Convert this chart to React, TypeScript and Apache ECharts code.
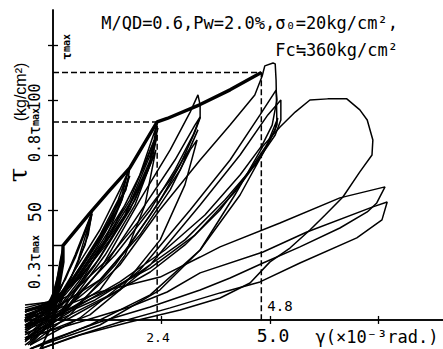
import React, { useEffect, useRef } from "react";
import * as echarts from "echarts";

// axis ticks and labels
const yTicks = [25, 50, 75, 100, 125];
const yLabels = [50, 100];
const xTicks = [2.5, 5.0, 7.5];
const xLabels = [2.4, 5.0];

// reference levels
const tauMax = 112.5;
const tau08 = 90;
const tau03 = 33.8;
const gamma24 = 2.4;
const gamma48 = 4.8;
const gamma03 = 0.23;

// skeleton (envelope) curve
const envelope = [[0, 0], [0.16, 18.2], [0.23, 26.4], [0.23, 33.8], [0.85, 48.6], [1.31, 59], [1.77, 69.1], [2.4, 90], [2.63, 91.6], [3.39, 97.9], [4.08, 104.6], [4.8, 112.5]];

// hysteresis loops (gamma x10^-3 rad, tau kg/cm2)
const loop03a = [[-0.645, -10], [-0.18, -2.3], [0, 6.8], [0.115, 20.5], [0.23, 33.2], [0.16, 26.4], [0.05, 13.6], [-0.115, 2.3], [-0.53, -8.2], [-0.645, -9.1]];
const loop03b = [[-0.645, -5.5], [-0.18, 0.9], [0.05, 10], [0.23, 32.3], [0.115, 20.5], [-0.07, 6.8], [-0.35, -0.9], [-0.645, -3.6]];
const loop03c = [[-0.645, 0.9], [-0.18, 2.3], [0.05, 9.1], [0.21, 29.5], [0.09, 15.9], [-0.18, 4.5], [-0.645, -0.9]];
const loop03d = [[-0.3, -13.2], [-0.07, -4.5], [0.07, 9.1], [0.23, 31.8], [0.115, 18.2], [-0.02, 2.3], [-0.25, -13.2]];
const loop09a = [[-0.645, 0.9], [-0.18, 3.6], [0.16, 13.6], [0.51, 29.5], [0.81, 44.5], [0.9, 49.1], [0.81, 38.6], [0.58, 26.4], [0.28, 13.6], [-0.07, 4.5], [-0.645, -2.7]];
const loop09b = [[-0.58, -11.4], [-0.07, -2.3], [0.21, 9.1], [0.58, 27.3], [0.9, 48.2], [0.74, 34.1], [0.39, 18.2], [0.05, 6.8], [-0.645, 0]];
const loop09c = [[-0.645, 6.8], [-0.07, 8.2], [0.28, 18.2], [0.62, 34.1], [0.88, 47.7], [0.78, 41.8], [0.51, 28.2], [0.16, 13.6], [-0.18, 6.8], [-0.645, 3.6]];
const loop18a = [[-0.645, 4.5], [-0.18, 5.5], [0.16, 11.4], [0.62, 26.4], [1.08, 40.9], [1.54, 59.1], [1.77, 69.1], [1.71, 61.4], [1.43, 47.7], [0.97, 31.8], [0.51, 18.2], [0.05, 6.8], [-0.645, 1.8]];
const loop18b = [[-0.58, -6.8], [0.05, 4.5], [0.51, 20.5], [1.08, 38.6], [1.5, 54.5], [1.73, 67.3], [1.59, 56.8], [1.2, 40.9], [0.74, 26.4], [0.16, 9.1], [-0.58, -3.6]];
const loop18c = [[-0.645, -2.3], [0.05, 6.8], [0.74, 26.4], [1.31, 45.5], [1.66, 59.1], [1.77, 65.5], [1.54, 52.3], [1.08, 36.4], [0.39, 15.9], [-0.645, -0.9]];
const loop18d = [[-0.53, -9.1], [0.16, 2.3], [0.74, 20.5], [1.2, 36.4], [1.59, 54.5], [1.73, 64.5], [1.68, 59.1], [1.43, 50], [0.97, 34.1], [0.39, 17.3], [-0.07, 6.8], [-0.645, 3.6]];
const loop24a = [[-0.645, -9.1], [0.05, 3.6], [0.62, 18.2], [1.31, 38.6], [2.0, 65.9], [2.4, 89.1], [2.33, 81.8], [2.12, 70.5], [1.66, 52.3], [1.08, 34.1], [0.51, 18.2], [-0.07, 6.8], [-0.645, 2.3]];
const loop24b = [[-0.53, -11.4], [0.16, 3.6], [0.97, 25], [1.66, 47.7], [2.24, 75], [2.42, 87.3], [2.24, 72.7], [1.89, 56.8], [1.31, 38.6], [0.62, 20.5], [0.05, 9.1], [-0.645, 5.5]];
const loop24c = [[-0.645, -4.5], [0.16, 5.5], [1.08, 28.2], [1.77, 50], [2.19, 68.2], [2.37, 81.8], [2.19, 69.1], [1.66, 47.7], [0.97, 28.2], [0.28, 11.4], [-0.645, 3.6]];
const loop24d = [[-0.58, -8.2], [0.28, 4.5], [1.2, 29.5], [1.89, 52.3], [2.28, 72.7], [2.4, 84.1], [2.24, 77.3], [1.77, 54.5], [1.2, 36.4], [0.51, 17.3], [-0.18, 5.5], [-0.645, 0.9]];
const loop24e = [[-0.645, -2.3], [0.16, 2.3], [1.08, 13.6], [1.66, 29.5], [2.12, 52.3], [2.37, 77.3], [2.24, 70.5], [1.89, 54.5], [1.31, 36.4], [0.62, 19.1], [-0.07, 7.7], [-0.645, 4.5]];
const loop34a = [[-0.645, -11.4], [0.16, 0.9], [1.08, 22.7], [2.0, 54.5], [2.7, 77.3], [3.16, 94.5], [3.34, 102.3], [3.39, 97.7], [3.39, 91.8], [3.27, 85.5], [2.93, 70.5], [2.47, 54.5], [1.77, 34.1], [1.08, 18.2], [0.39, 6.8], [-0.3, -0.9], [-0.645, -3.6]];
const loop34b = [[-0.645, -6.8], [0.16, 2.3], [1.2, 25], [2.12, 52.3], [2.81, 72.7], [3.27, 88.6], [3.39, 92.3], [3.23, 84.1], [2.81, 68.2], [2.24, 50], [1.43, 29.5], [0.62, 12.7], [-0.18, 2.3], [-0.645, -0.9]];
const loop34c = [[-0.53, -11.4], [0.39, 2.3], [1.43, 25], [2.24, 47.7], [2.93, 68.2], [3.34, 86.4], [3.16, 78.2], [2.7, 63.6], [2.0, 45.5], [1.2, 26.4], [0.39, 11.4], [-0.645, 0.9]];
const loop34d = [[-0.645, -8.2], [0.39, 0.9], [1.54, 13.6], [2.47, 36.4], [3.04, 61.4], [3.32, 81.8], [3.16, 77.3], [2.7, 59.1], [2.0, 38.6], [1.08, 18.2], [0.16, 6.8], [-0.645, 2.3]];
const loop50a = [[-0.645, -8.2], [0.39, 3.6], [1.54, 25], [2.46, 50], [3.39, 72.7], [4.08, 88.6], [4.65, 102.3], [4.82, 110.9], [4.88, 115.5], [5.07, 116.8], [5.12, 116.4], [5.14, 109.1], [5.16, 88.6], [5.0, 81.8], [4.54, 68.2], [3.85, 50], [3.04, 34.1], [2.24, 21.8], [1.31, 11.4], [0.39, 2.3], [-0.41, -4.5], [-0.645, -5.9]];
const loop50b = [[-0.53, -11.4], [0.62, 0.9], [2.0, 22.7], [3.16, 50], [4.08, 72.7], [4.77, 93.2], [5.14, 104.5], [5.16, 100], [5.05, 88.6], [4.82, 79.5], [4.31, 65.9], [3.5, 47.7], [2.58, 31.8], [1.54, 17.3], [0.62, 6.8], [-0.3, -0.9], [-0.645, -2.7]];
const loop50c = [[-0.645, -9.1], [0.85, 2.3], [2.24, 25], [3.39, 52.3], [4.31, 75], [4.95, 93.2], [5.25, 100], [5.25, 90.9], [5.12, 84.1], [4.65, 70.5], [3.96, 54.5], [3.04, 36.4], [2.0, 21.8], [0.97, 9.1], [-0.07, 0], [-0.645, -4.5]];
const loop50d = [[-0.53, -13.2], [0.85, -2.3], [2.24, 11.4], [3.39, 31.8], [4.31, 56.8], [4.88, 77.3], [5.18, 91.8], [5.12, 86.4], [4.82, 75], [4.19, 58.2], [3.27, 38.6], [2.24, 23.6], [1.08, 11.4], [0.05, 2.3], [-0.645, -2.3]];
const loopBig = [[-0.53, -13.2], [1.08, -2.3], [2.46, 13.6], [3.39, 31.8], [4.19, 56.8], [4.84, 79.1], [5.23, 87.7], [5.58, 94.5], [5.92, 100], [6.33, 100.5], [6.77, 100.5], [7.07, 95.5], [7.24, 90.9], [7.37, 81.8], [7.35, 75], [7.07, 67.3], [6.68, 55.9], [6.27, 47.7], [5.92, 40.9], [5.46, 32.7], [5.0, 26.4], [4.54, 16.8], [3.85, 10], [2.93, 4.5], [1.77, -0.9], [0.62, -6.8], [-0.3, -13.2]];
const loop76a = [[-0.645, -3.6], [0.16, 5.5], [1.08, 12.7], [2.47, 19.5], [3.39, 28.6], [3.85, 33.2], [5.23, 44.1], [6.61, 55.5], [7.65, 60.5], [7.46, 53.2], [7.24, 49.1], [6.61, 41.8], [5.69, 33.2], [4.84, 25.9], [4.08, 19.1], [3.39, 13.6], [2.24, 5.9], [1.08, -0.9], [-0.07, -9.1], [-0.53, -13.2]];
const loop76b = [[-0.645, -8.2], [0.62, -0.9], [1.77, 5.9], [2.63, 12.7], [3.39, 21.4], [4.84, 30.9], [5.85, 40], [7.37, 51.4], [7.7, 53.6], [7.58, 45.5], [7.0, 37.3], [5.69, 25.9], [4.77, 17.3], [3.85, 12.3], [2.7, 5.5], [1.54, -0.9], [0.39, -8.2], [-0.3, -13.2]];

const loops = [loop03a, loop03b, loop03c, loop03d, loop09a, loop09b, loop09c, loop18a, loop18b, loop18c, loop18d, loop24a, loop24b, loop24c, loop24d, loop24e, loop34a, loop34b, loop34c, loop34d, loop50a, loop50b, loop50c, loop50d, loopBig, loop76a, loop76b];

const MONO = '"DejaVu Sans Mono", monospace';

export default function App() {
  const ref = useRef<HTMLDivElement>(null);
  useEffect(() => {
    if (!ref.current) return;
    const chart = echarts.init(ref.current, undefined, { renderer: "svg" });
    const thin = { color: "#000", width: 1.5 };
    const series: any[] = loops.map((d, i) => ({
      type: "line", name: "loop" + i, data: d, symbol: "none", silent: true,
      lineStyle: thin, z: 2,
    }));
    series.push({ type: "line", name: "envelope", data: envelope, symbol: "none", silent: true, lineStyle: { color: "#000", width: 3.4 }, z: 3 });
    series.push({ type: "line", name: "tmax", data: [[0, tauMax], [gamma48, tauMax], [gamma48, 0]], symbol: "none", silent: true, lineStyle: { color: "#000", width: 1.5, type: [6, 3] }, z: 1 });
    series.push({ type: "line", name: "t08", data: [[0, tau08], [gamma24, tau08], [gamma24, 0]], symbol: "none", silent: true, lineStyle: { color: "#000", width: 1.5, type: [6, 3] }, z: 1 });
    series.push({ type: "line", name: "t03", data: [[0, tau03], [gamma03, tau03]], symbol: "none", silent: true, lineStyle: { color: "#000", width: 1.5 }, z: 1 });

    const axisLine = { onZero: true, onZeroAxisIndex: 0, lineStyle: { color: "#000", width: 1.5 } };
    const tickStyle = { color: "#000", width: 1.3 };
    chart.setOption({
      animation: false,
      backgroundColor: "#fff",
      grid: { left: 25, top: 10, width: 418, height: 339, containLabel: false, outerBoundsMode: "none" },
      xAxis: [
        {
          type: "value", min: -0.645, max: 8.986, position: "bottom",
          axisLine, splitLine: { show: false },
          axisTick: { show: true, customValues: xTicks, length: 4, lineStyle: tickStyle },
          axisLabel: { show: false },
        },
        {
          type: "value", min: -0.645, max: 8.986, position: "top",
          axisLine, splitLine: { show: false },
          axisTick: { show: true, customValues: xTicks, length: 4, lineStyle: tickStyle },
          axisLabel: { show: false },
        },
      ],
      yAxis: [
        {
          type: "value", min: -13.2, max: 140.9, position: "left",
          axisLine, splitLine: { show: false },
          axisTick: { show: true, customValues: yTicks, length: 5, lineStyle: tickStyle },
          axisLabel: { show: false },
        },
        {
          type: "value", min: -13.2, max: 140.9, position: "right",
          axisLine, splitLine: { show: false },
          axisTick: { show: true, customValues: yTicks, length: 5, lineStyle: tickStyle },
          axisLabel: { show: false },
        },
      ],
      series,
      graphic: [
        { type: "text", x: 398, y: 23, style: { text: "M/QD=0.6,Pw=2.0%,σ₀=20kg/cm²,", font: '17px ' + MONO, fill: "#000", align: "right", verticalAlign: "middle" } },
        { type: "text", x: 398, y: 50, style: { text: "Fc≒360kg/cm²", font: '17px ' + MONO, fill: "#000", align: "right", verticalAlign: "middle" } },
        { type: "text", x: 158, y: 337, style: { text: xLabels[0].toFixed(1), font: '13px ' + MONO, fill: "#000", align: "center", verticalAlign: "middle" } },
        { type: "text", x: 273, y: 335, style: { text: xLabels[1].toFixed(1), font: '18px ' + MONO, fill: "#000", align: "center", verticalAlign: "middle" } },
        { type: "text", x: 280, y: 306, style: { text: "4.8", font: '14px ' + MONO, fill: "#000", align: "center", verticalAlign: "middle" } },
        { type: "text", x: 377, y: 337, style: { text: "γ(×10⁻³rad.)", font: '17px ' + MONO, fill: "#000", align: "center", verticalAlign: "middle" } },
        { type: "text", x: 35, y: 97, rotation: Math.PI / 2, style: { text: String(yLabels[1]), font: '15px ' + MONO, fill: "#000", align: "center", verticalAlign: "middle" } },
        { type: "text", x: 35, y: 212, rotation: Math.PI / 2, style: { text: String(yLabels[0]), font: '17px ' + MONO, fill: "#000", align: "center", verticalAlign: "middle" } },
        { type: "text", x: 66, y: 47, rotation: Math.PI / 2, style: { text: "{t|τ}{s|max}", fill: "#000", align: "center", verticalAlign: "middle", rich: { t: { fontSize: 13, fontFamily: MONO, fontWeight: "bold" }, s: { fontSize: 10, fontFamily: MONO, fontWeight: "bold" } } } },
        { type: "text", x: 35, y: 135, rotation: Math.PI / 2, style: { text: "{n|0.8τ}{s|max}", fill: "#000", align: "center", verticalAlign: "middle", rich: { n: { fontSize: 15, fontFamily: MONO }, s: { fontSize: 10, fontFamily: MONO, fontWeight: "bold" } } } },
        { type: "text", x: 35, y: 262, rotation: Math.PI / 2, style: { text: "{n|0.3τ}{s|max}", fill: "#000", align: "center", verticalAlign: "middle", rich: { n: { fontSize: 15, fontFamily: MONO }, s: { fontSize: 10, fontFamily: MONO, fontWeight: "bold" } } } },
        { type: "text", x: 20, y: 92, rotation: Math.PI / 2, style: { text: "(kg/cm²)", font: '16px "Liberation Sans", sans-serif', fill: "#000", align: "center", verticalAlign: "middle" } },
        { type: "text", x: 18, y: 175, rotation: Math.PI / 2, style: { text: "τ", font: '26px "DejaVu Serif", serif', fill: "#000", align: "center", verticalAlign: "middle" } },
      ],
    });
    return () => chart.dispose();
  }, []);
  return <div ref={ref} style={{ position: "fixed", left: 0, top: 0, width: 443, height: 349, background: "#fff" }} />;
}
